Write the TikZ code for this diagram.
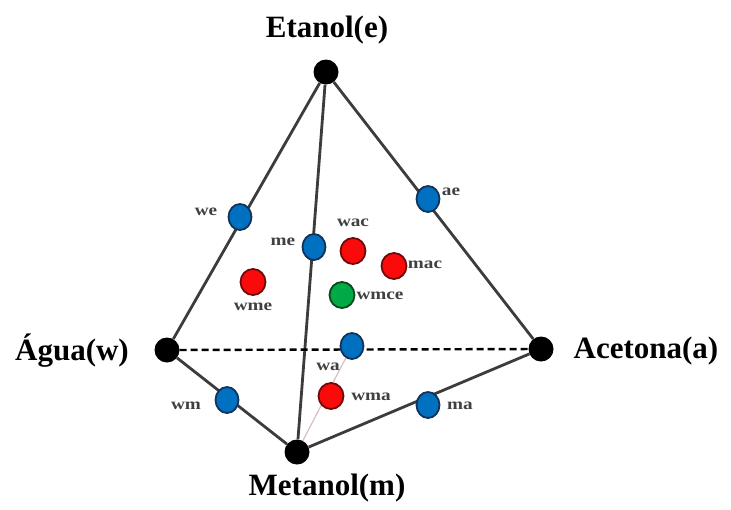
\documentclass[tikz,border=0pt]{standalone}
\usepackage{fontspec}
\setmainfont{Liberation Serif}
\usetikzlibrary{shapes.geometric}
\definecolor{bluef}{RGB}{0,112,192}
\definecolor{blued}{RGB}{20,50,90}
\definecolor{redf}{RGB}{250,10,10}
\definecolor{redd}{RGB}{110,10,10}
\definecolor{greenf}{RGB}{0,170,70}
\definecolor{greend}{RGB}{10,70,30}
\definecolor{edgec}{RGB}{60,60,60}
\begin{document}
\begin{tikzpicture}[x=1pt,y=-1pt,
  vert/.style={circle,fill=black,inner sep=0pt,minimum size=25pt},
  bpt/.style={ellipse,draw=blued,line width=1.8pt,fill=bluef,inner sep=0pt,minimum width=23pt,minimum height=26pt},
  rpt/.style={ellipse,draw=redd,line width=1.8pt,fill=redf,inner sep=0pt,minimum width=25pt,minimum height=26pt},
  gpt/.style={ellipse,draw=greend,line width=1.8pt,fill=greenf,inner sep=0pt,minimum width=25pt,minimum height=26pt},
  big/.style={font=\fontsize{31}{31}\selectfont\bfseries,inner sep=0pt},
  small/.style={font=\fontsize{16}{16}\selectfont\bfseries,text=black!75,inner sep=0pt,xscale=1.2},
  edge/.style={draw=edgec,line width=2.8pt}]
\useasboundingbox (0,0) rectangle (731,509);
% vertices
\node[vert] (E) at (326,72) {};
\node[vert] (W) at (167,350) {};
\node[vert] (A) at (541,349) {};
\node[vert] (M) at (297,452) {};
% edges
\draw[edge] (E) -- (W);
\draw[edge] (E) -- (A);
\draw[edge] (E) -- (M);
\draw[edge] (W) -- (M);
\draw[edge] (M) -- (A);
\draw[black,line width=2.4pt,dash pattern=on 7pt off 4pt] (W) -- (A);
% points
\node[bpt] (wa) at (352,346) {};
\draw[draw={rgb,255:red,215;green,190;blue,195},line width=1.2pt] (M) -- (wa);
\node[bpt] (we) at (240,217) {};
\node[bpt] (me) at (314,247) {};
\node[bpt] (ae) at (428,199) {};
\node[bpt] (wm) at (227,400) {};
\node[bpt] (ma) at (428,405) {};
\node[rpt] (wme) at (253,282) {};
\node[rpt] (wac) at (353,251) {};
\node[rpt] (mac) at (394,266) {};
\node[rpt] (wma) at (331,396) {};
\node[gpt] (wmce) at (342,295) {};
% big labels
\node[big] (Le) at (327,30) {Etanol(e)};
\node[big] (Lw) at (72,351) {Água(w)};
\node[big] (La) at (646,351) {Acetona(a)};
\node[big] (Lm) at (327,488) {Metanol(m)};
% small labels
\node[small] (lwe) at (206,212) {we};
\node[small] (lme) at (283,242) {me};
\node[small] (lwac) at (353,223) {wac};
\node[small] (lae) at (451,192) {ae};
\node[small] (lmac) at (425,265) {mac};
\node[small] (lwmce) at (380,296) {wmce};
\node[small] (lwme) at (253,307) {wme};
\node[small] (lwa) at (328,367) {wa};
\node[small] (lwm) at (186,406) {wm};
\node[small] (lwma) at (371,397) {wma};
\node[small] (lma) at (460,406) {ma};
\end{tikzpicture}
\end{document}
